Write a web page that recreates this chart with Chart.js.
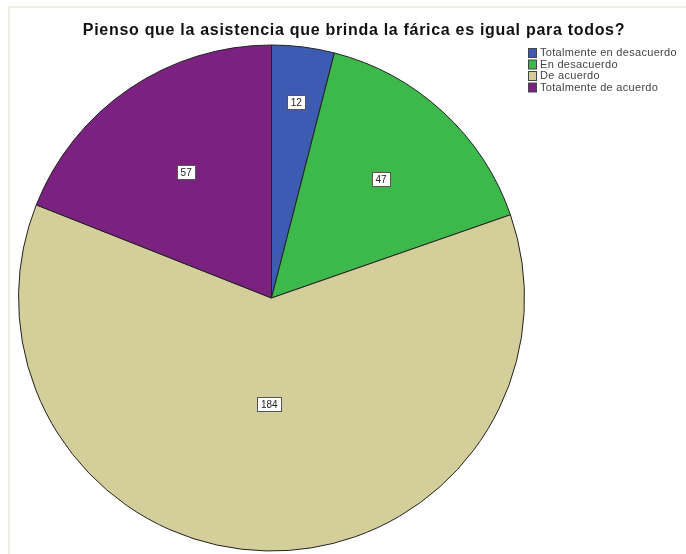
<!DOCTYPE html>
<html lang="es">
<head>
  <meta charset="UTF-8">
  <title>Asistencia de la fábrica</title>
  <script src="https://cdn.jsdelivr.net/npm/chart.js"></script>
  <style>
    html, body { margin: 0; padding: 0; background: #fff; }
    #wrap { position: relative; width: 686px; height: 554px; }
  </style>
</head>
<body>
  <div id="wrap"><canvas id="pieChart"></canvas></div>

  <script>
    const chartTitle = "Pienso que la asistencia que brinda la fárica es igual para todos?";
    const categories = ["Totalmente en desacuerdo", "En desacuerdo", "De acuerdo", "Totalmente de acuerdo"];
    const counts = [12, 47, 184, 57];
    const colors = ["#3d5bb0", "#3cb94a", "#d4cf9a", "#7b2180"];

    // how far out from the centre each value label sits (fraction of the radius)
    const labelDist = [0.78, 0.64, 0.42, 0.6];

    const decorPlugin = {
      id: "decor",
      beforeDraw(chart) {
        const ctx = chart.ctx;
        ctx.save();
        ctx.fillStyle = "#fff";
        ctx.fillRect(0, 0, chart.width, chart.height);
        // faint frame round the output
        ctx.strokeStyle = "#f0ede5";
        ctx.lineWidth = 2;
        ctx.beginPath();
        ctx.moveTo(9, chart.height);
        ctx.lineTo(9, 7);
        ctx.lineTo(chart.width, 7);
        ctx.stroke();
        ctx.restore();
      },
      afterDatasetsDraw(chart) {
        const ctx = chart.ctx;
        const meta = chart.getDatasetMeta(0);
        ctx.save();

        // value labels in white boxes
        ctx.font = "10px 'Liberation Sans', Arial, sans-serif";
        ctx.textAlign = "center";
        ctx.textBaseline = "middle";
        meta.data.forEach((arc, i) => {
          const mid = (arc.startAngle + arc.endAngle) / 2;
          const r = arc.outerRadius * labelDist[i];
          const x = arc.x + Math.cos(mid) * r;
          const y = arc.y + Math.sin(mid) * r;
          const txt = String(counts[i]);
          const w = Math.round(ctx.measureText(txt).width + 7);
          const h = 14;
          const bx = Math.round(x - w / 2) + 0.5;
          const by = Math.round(y - h / 2) + 0.5;
          ctx.fillStyle = "#fff";
          ctx.fillRect(bx, by, w, h);
          ctx.strokeStyle = "#555";
          ctx.lineWidth = 1;
          ctx.strokeRect(bx, by, w, h);
          ctx.fillStyle = "#222";
          ctx.fillText(txt, x, y + 1);
        });

        // title
        ctx.font = "bold 16px 'Liberation Sans', Arial, sans-serif";
        ctx.letterSpacing = "0.7px";
        ctx.fillStyle = "#111";
        ctx.fillText(chartTitle, 354, 31);

        // legend
        ctx.font = "11px 'Liberation Sans', Arial, sans-serif";
        ctx.letterSpacing = "0.3px";
        ctx.textAlign = "left";
        categories.forEach((c, i) => {
          const y = 53 + i * 11.5;
          ctx.fillStyle = colors[i];
          ctx.fillRect(528.5, y - 4.5, 8, 9);
          ctx.strokeStyle = "#444";
          ctx.strokeRect(528.5, y - 4.5, 8, 9);
          ctx.fillStyle = "#444";
          ctx.fillText(c, 540, y);
        });
        ctx.restore();
      }
    };

    new Chart(document.getElementById("pieChart"), {
      type: "pie",
      data: {
        labels: categories,
        datasets: [{
          data: counts,
          backgroundColor: colors,
          borderColor: "#222",
          borderWidth: 1
        }]
      },
      options: {
        responsive: true,
        maintainAspectRatio: false,
        animation: false,
        layout: { padding: { left: 18, right: 161, top: 44, bottom: 2 } },
        plugins: {
          legend: { display: false },
          tooltip: { enabled: false },
          title: { display: false }
        }
      },
      plugins: [decorPlugin]
    });
  </script>
</body>
</html>
